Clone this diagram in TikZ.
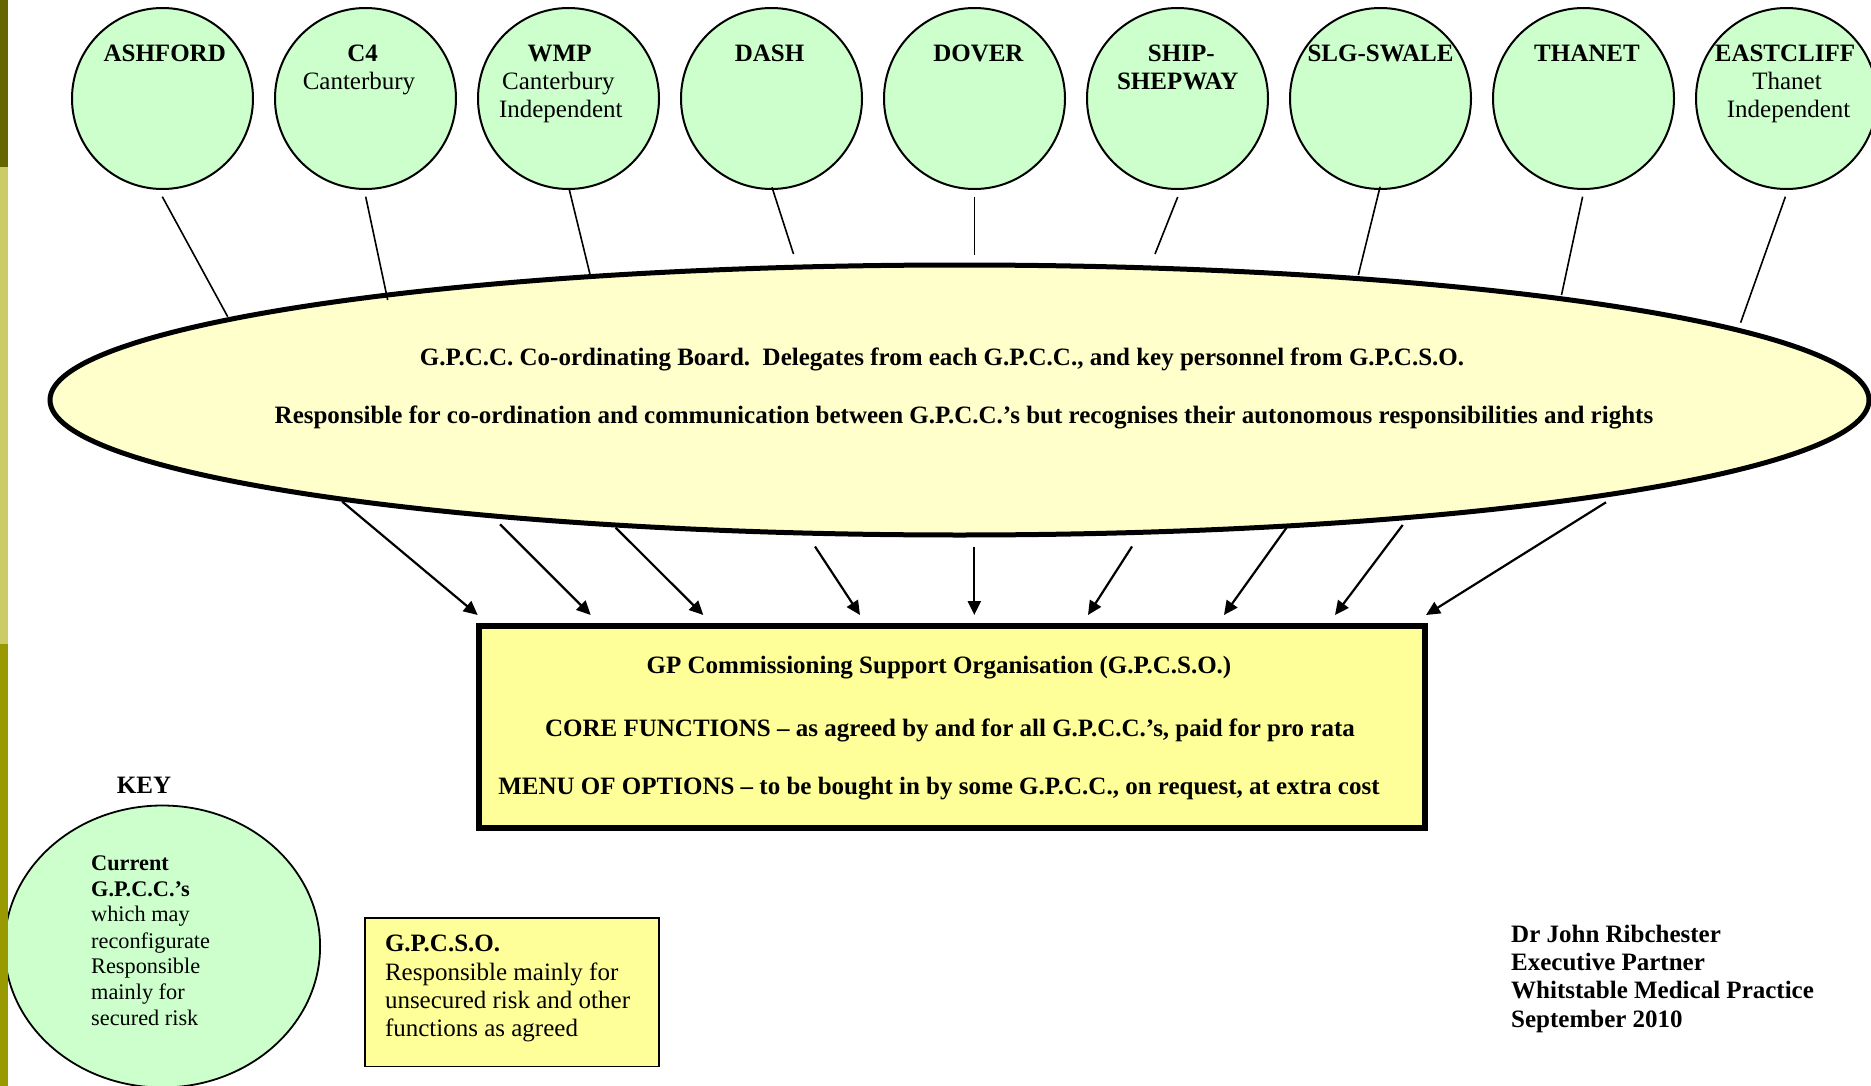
\documentclass[tikz,border=0pt]{standalone}
\usepackage{fontspec}
\setmainfont{Liberation Serif}
\usetikzlibrary{arrows.meta,shapes.geometric}
\definecolor{cgreen}{HTML}{CCFFCC}
\definecolor{cellip}{HTML}{FFFFCC}
\definecolor{cbox}{HTML}{FFFF99}
\definecolor{bardark}{HTML}{666600}
\definecolor{barlight}{HTML}{CCCC66}
\definecolor{barmid}{HTML}{999900}
\newcommand{\fsA}{\fontsize{25}{28.5}\selectfont}
\newcommand{\fsK}{\fontsize{22.3}{25.8}\selectfont}
\begin{document}
\begin{tikzpicture}[x=1pt,y=-1pt,
  gpcc/.style={circle, draw, line width=2pt, fill=cgreen, minimum size=181pt, inner sep=0pt},
  board/.style={ellipse, draw, line width=5pt, fill=cellip, minimum width=1819pt, minimum height=270pt, inner sep=0pt},
  gpcso/.style={rectangle, draw, line width=6pt, fill=cbox, minimum width=946pt, minimum height=201.5pt, inner sep=0pt},
  keycirc/.style={ellipse, draw, line width=1.8pt, fill=cgreen, minimum width=315.6pt, minimum height=282pt, inner sep=0pt},
  keybox/.style={rectangle, draw, line width=1.6pt, fill=cbox, minimum width=294pt, minimum height=148.5pt, inner sep=0pt},
  tb/.style={anchor=base, inner sep=0pt, font=\fsA\bfseries},
  tr/.style={anchor=base, inner sep=0pt, font=\fsA},
  tbl/.style={anchor=base west, inner sep=0pt, font=\fsA\bfseries},
  trl/.style={anchor=base west, inner sep=0pt, font=\fsA},
  kb/.style={anchor=base west, inner sep=0pt, font=\fsK\bfseries},
  kr/.style={anchor=base west, inner sep=0pt, font=\fsK},
  link/.style={line width=1.6pt},
  arr/.style={line width=2.2pt, -{Triangle[length=14pt,width=13pt]}}
]
\useasboundingbox (0,0) rectangle (1871,1086);
\fill[white] (0,0) rectangle (1871,1086);

% board ellipse
\node[board] (board) at (959.5,400) {};
\node[tb] (bl1) at (942,365) {G.P.C.C. Co-ordinating Board.\ \ Delegates from each G.P.C.C., and key personnel from G.P.C.S.O.};
\node[tb] (bl2) at (964,423) {Responsible for co-ordination and communication between G.P.C.C.’s but recognises their autonomous responsibilities and rights};

% GPCC circles
\foreach \i in {1,...,9}{
  \node[gpcc] (c\i) at ({162.5+203*(\i-1)},98.5) {};
}
\foreach \i/\x/\t in {1/164.7/ASHFORD,2/362.7/C4,3/559.6/WMP,4/769.6/DASH,5/978.4/DOVER,6/1181.3/SHIP-,7/1380.5/SLG-SWALE,8/1587/THANET,9/1785/EASTCLIFF}{
  \node[tb] (t\i) at (\x,62) {\t};
}
\node[tr] (c2b) at (359,90) {Canterbury};
\node[tr] (c3b) at (558.4,90) {Canterbury};
\node[tr] (c3c) at (560.8,118) {Independent};
\node[tb] (c6b) at (1177.7,90) {SHEPWAY};
\node[tr] (c9b) at (1787,90) {Thanet};
\node[tr] (c9c) at (1788.6,118) {Independent};

% circle-to-board links
\coordinate (s1) at (162.3,196.7);  \coordinate (e1) at (227.7,316.7);
\coordinate (s2) at (365.7,196.7);  \coordinate (e2) at (387.7,300);
\coordinate (s3) at (569,188.5);    \coordinate (e3) at (590.6,276.8);
\coordinate (s4) at (772,187.3);    \coordinate (e4) at (793.5,254);
\coordinate (s5) at (974.3,197);    \coordinate (e5) at (974.3,255);
\coordinate (s6) at (1177.7,197);   \coordinate (e6) at (1155,254);
\coordinate (s7) at (1380.1,186.7); \coordinate (e7) at (1358.3,275);
\coordinate (s8) at (1582.6,196.7); \coordinate (e8) at (1561.5,295);
\coordinate (s9) at (1785.4,196.7); \coordinate (e9) at (1740.6,322.7);
\foreach \i in {1,...,9}{ \draw[link] (s\i) -- (e\i); }

% GPCSO box
\node[gpcso] (gpcso) at (952,726.75) {};
\node[tb] (g1) at (939,673) {GP Commissioning Support Organisation (G.P.C.S.O.)};
\node[tb] (g2) at (950,736) {CORE FUNCTIONS – as agreed by and for all G.P.C.C.’s, paid for pro rata};
\node[tb] (g3) at (939,794) {MENU OF OPTIONS – to be bought in by some G.P.C.C., on request, at extra cost};

% arrows board -> gpcso
\coordinate (a1) at (342.3,501.7); \coordinate (b1) at (477.7,615);
\coordinate (a2) at (500,524.3);   \coordinate (b2) at (590.7,615);
\coordinate (a3) at (615.7,527.7); \coordinate (b3) at (703.3,615);
\coordinate (a4) at (815,546.5);   \coordinate (b4) at (860,615);
\coordinate (a5) at (974.3,546.7); \coordinate (b5) at (974.3,615);
\coordinate (a6) at (1132,546.5);  \coordinate (b6) at (1088,615);
\coordinate (a7) at (1287,527);    \coordinate (b7) at (1224,615);
\coordinate (a8) at (1402.7,525);  \coordinate (b8) at (1335,615);
\coordinate (a9) at (1606,502.3);  \coordinate (b9) at (1426,615);
\foreach \i in {1,...,9}{ \draw[arr] (a\i) -- (b\i); }

% key
\node[tb] (keyt) at (144,793) {KEY};
\node[keycirc] (kc) at (162.3,946.5) {};
\node[kb] (k1) at (91,870) {Current};
\node[kb] (k2) at (91,896.7) {G.P.C.C.’s};
\node[kr] (k3) at (91,921.7) {which may};
\node[kr] (k4) at (91,948) {reconfigurate};
\node[kr] (k5) at (91,973) {Responsible};
\node[kr] (k6) at (91,999) {mainly for};
\node[kr] (k7) at (91,1025) {secured risk};

\node[keybox] (kbx) at (512,992.25) {};
\node[tbl] (kb1) at (384.8,951.7) {G.P.C.S.O.};
\node[trl] (kb2) at (384.8,980) {Responsible mainly for};
\node[trl] (kb3) at (384.8,1008) {unsecured risk and other};
\node[trl] (kb4) at (384.8,1036.7) {functions as agreed};

% signature
\node[tbl] (sg1) at (1511,942) {Dr John Ribchester};
\node[tbl] (sg2) at (1511,970) {Executive Partner};
\node[tbl] (sg3) at (1511,998) {Whitstable Medical Practice};
\node[tbl] (sg4) at (1511,1027) {September 2010};

% left bar
\fill[bardark] (0,0) rectangle (8,167);
\fill[barlight] (0,167) rectangle (8,644);
\fill[barmid] (0,644) rectangle (8,1086);
\end{tikzpicture}
\end{document}
